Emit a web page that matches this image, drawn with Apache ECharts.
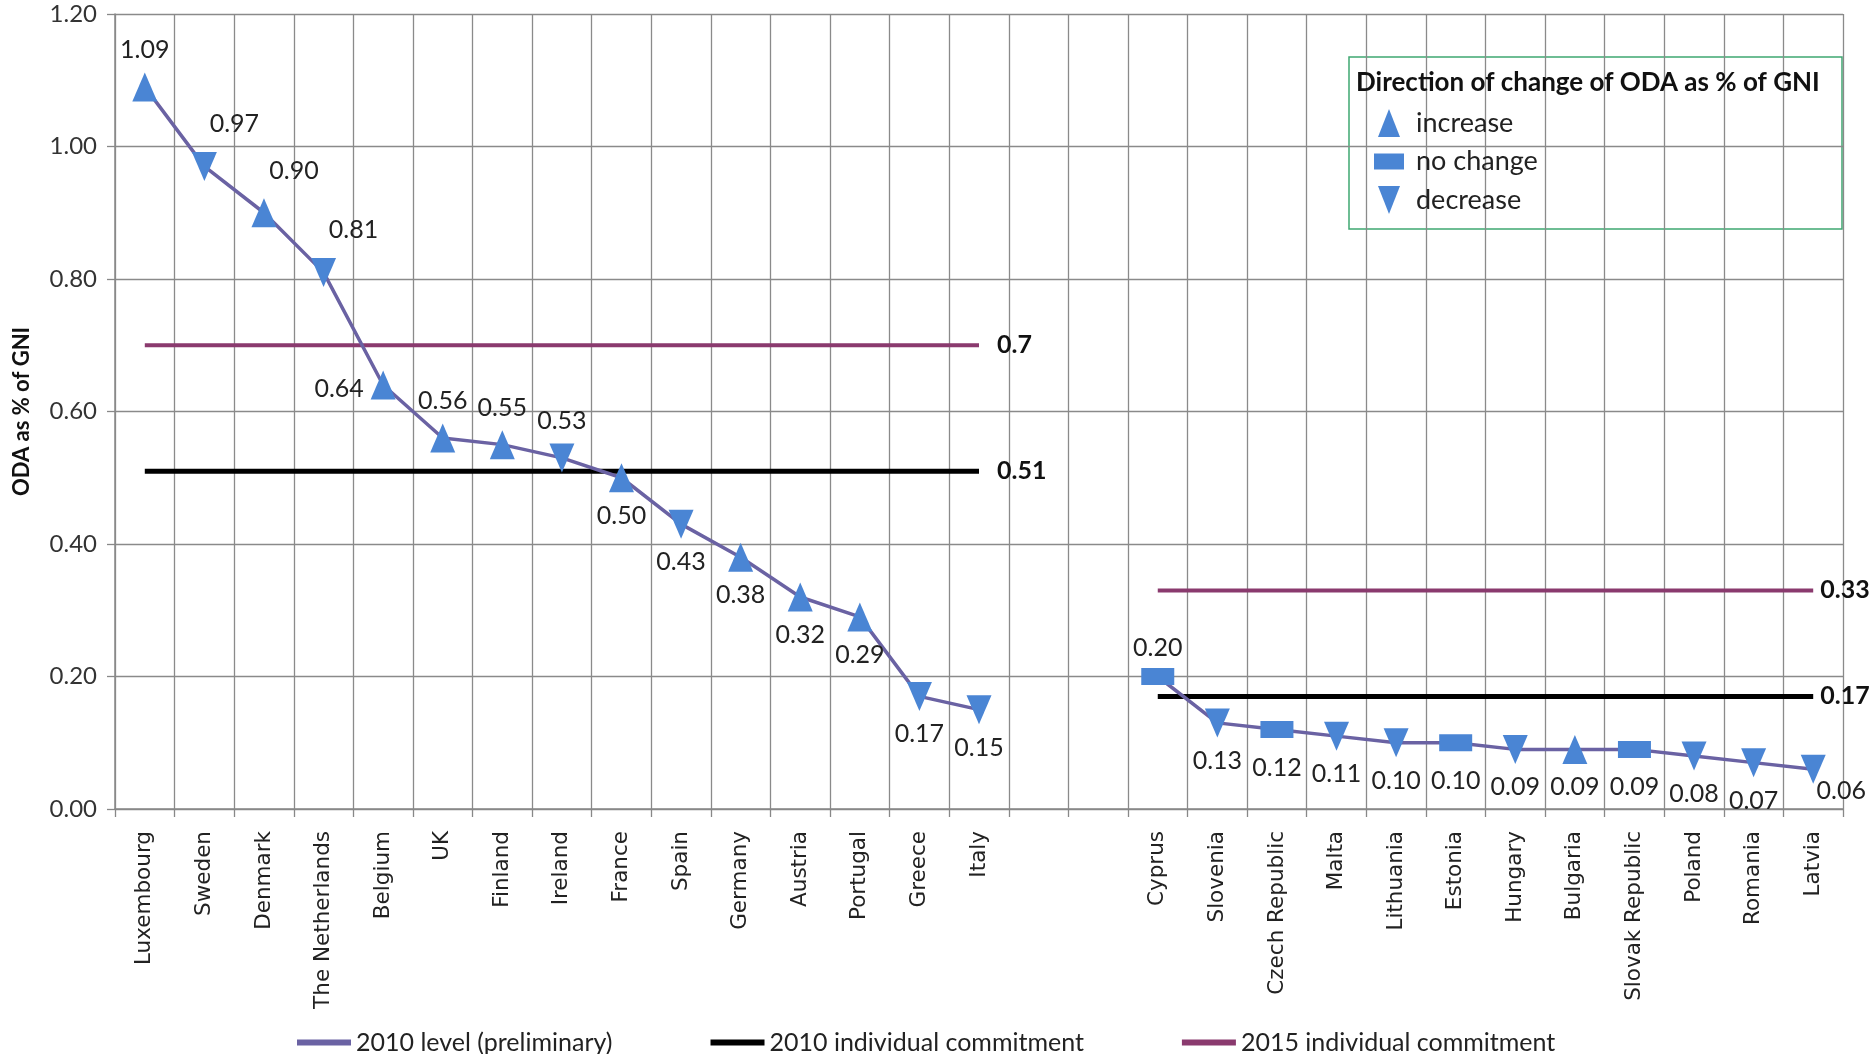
<!DOCTYPE html>
<html>
<head>
<meta charset="utf-8">
<script src="https://cdn.jsdelivr.net/npm/echarts@6/dist/echarts.min.js"></script>
<style>
html,body{margin:0;padding:0;background:#fff;}
#chart{width:1872px;height:1054px;}
</style>
</head>
<body>
<div id="chart"></div>
<script>
// ---- data ----
const categories = ['Luxembourg','Sweden','Denmark','The Netherlands','Belgium','UK','Finland','Ireland','France','Spain','Germany','Austria','Portugal','Greece','Italy',' ','  ','Cyprus','Slovenia','Czech Republic','Malta','Lithuania','Estonia','Hungary','Bulgaria','Slovak Republic','Poland','Romania','Latvia'];
const level2010 = [1.09,0.97,0.90,0.81,0.64,0.56,0.55,0.53,0.50,0.43,0.38,0.32,0.29,0.17,0.15,null,null,0.20,0.13,0.12,0.11,0.10,0.10,0.09,0.09,0.09,0.08,0.07,0.06];
const direction = ['up','down','up','down','up','up','up','down','up','down','up','up','up','down','down',null,null,'same','down','same','down','down','same','down','up','same','down','down','down'];
const commitment2010 = [0.51,0.51,0.51,0.51,0.51,0.51,0.51,0.51,0.51,0.51,0.51,0.51,0.51,0.51,0.51,null,null,0.17,0.17,0.17,0.17,0.17,0.17,0.17,0.17,0.17,0.17,0.17,0.17];
const commitment2015 = [0.7,0.7,0.7,0.7,0.7,0.7,0.7,0.7,0.7,0.7,0.7,0.7,0.7,0.7,0.7,null,null,0.33,0.33,0.33,0.33,0.33,0.33,0.33,0.33,0.33,0.33,0.33,0.33];
const yTicks = {min:0, max:1.2, interval:0.2};

// ---- styles ----
const labelPlace = ['top','tr','tr','tr','left','top','top','top','bottom','bottom','bottom','bottom','bottom','bottom','bottom',null,null,'topS','bottom','bottom','bottom','bottom','bottom','bottom','bottom','bottom','bottom','bottom','br'];
const placeOffset = {top:[0,-37], topS:[0,-29], tr:[30,-42], left:[-44,4], bottom:[0,38], br:[28,22]};
const FONT = 'Lato, "Open Sans", sans-serif';
const markerColor = '#4A85D4';
const lineColor = '#6A62A3';
const c2010Color = '#000000';
const c2015Color = '#8A3A6E';

function markerData(dir) {
  return level2010.map((v, i) => {
    if (direction[i] !== dir || v == null) return '-';
    return { value: v, label: { show: true, position: 'inside', offset: placeOffset[labelPlace[i]] } };
  });
}
function endLabelData(arr) {
  return arr.map((v, i) => {
    if (v == null) return '-';
    const isEnd = (i === arr.length - 1) || arr[i + 1] == null;
    if (!isEnd) return v;
    return { value: v, label: { show: true, distance: i === arr.length - 1 ? 7 : 18 } };
  });
}
const markerLabel = { show: false, fontFamily: FONT, fontSize: 25, color: '#222', formatter: p => p.value.toFixed(2) };
const endLabel = { show: false, position: 'right', fontFamily: FONT, fontSize: 25, fontWeight: 'bold', color: '#111', formatter: p => String(p.value) };

const chart = echarts.init(document.getElementById('chart'), null, {renderer: 'canvas'});
chart.setOption({
  animation: false,
  backgroundColor: '#fff',
  grid: { left: 115, right: 29, top: 14, bottom: 245, containLabel: false },
  title: {
    text: 'Direction of change of ODA as % of GNI',
    left: 1351, top: 65,
    textStyle: { fontFamily: FONT, fontSize: 26, fontWeight: 'bold', color: '#111' }
  },
  graphic: [{
    type: 'rect', z: -1,
    shape: { x: 1349, y: 57, width: 493, height: 172 },
    style: { fill: '#fff', stroke: '#3FA872', lineWidth: 1.5 }
  }],
  legend: [{
    orient: 'vertical', left: 1369, top: 104,
    itemWidth: 30, itemHeight: 28, itemGap: 11,
    selectedMode: false,
    textStyle: { fontFamily: FONT, fontSize: 27, color: '#222', padding: [0,0,0,7] },
    data: [
      { name: 'increase', icon: 'path://M11,0 L22,28 L0,28 Z', itemStyle: { color: markerColor } },
      { name: 'no change', icon: 'path://M0,0 L30,0 L30,16 L0,16 Z', itemStyle: { color: markerColor } },
      { name: 'decrease', icon: 'path://M0,0 L22,0 L11,28 Z', itemStyle: { color: markerColor } }
    ]
  }, {
    orient: 'horizontal', left: 292, top: 1025,
    itemWidth: 54, itemHeight: 6, itemGap: 98,
    selectedMode: false,
    textStyle: { fontFamily: FONT, fontSize: 25, color: '#222' },
    data: [
      { name: '2010 level (preliminary)', icon: 'rect', itemStyle: { color: lineColor } },
      { name: '2010 individual commitment', icon: 'rect', itemStyle: { color: c2010Color } },
      { name: '2015 individual commitment', icon: 'rect', itemStyle: { color: c2015Color } }
    ]
  }],
  xAxis: {
    type: 'category',
    data: categories,
    boundaryGap: true,
    axisLine: { show: true, lineStyle: { color: '#888', width: 1.5 } },
    axisTick: { show: true, length: 8, lineStyle: { color: '#888', width: 1.3 } },
    axisLabel: { rotate: 90, interval: 0, margin: 22, fontFamily: '"DejaVu Sans", Verdana, sans-serif', fontSize: 21.5, color: '#222' },
    splitLine: { show: true, lineStyle: { color: '#8a8a8a', width: 1.3 } }
  },
  yAxis: {
    type: 'value',
    min: yTicks.min, max: yTicks.max, interval: yTicks.interval,
    name: 'ODA as % of GNI',
    nameLocation: 'middle', nameRotate: 90, nameGap: 82,
    nameTextStyle: { fontFamily: FONT, fontSize: 22, fontWeight: 'bold', color: '#111' },
    axisLine: { show: true, lineStyle: { color: '#888', width: 1.5 } },
    axisTick: { show: true, length: 8, lineStyle: { color: '#888', width: 1.3 } },
    axisLabel: { margin: 18, fontFamily: FONT, fontSize: 24, color: '#333', formatter: v => v.toFixed(2) },
    splitLine: { show: true, lineStyle: { color: '#8a8a8a', width: 1.3 } }
  },
  series: [
    {
      name: '2015 individual commitment', type: 'line', data: endLabelData(commitment2015),
      showSymbol: true, symbol: 'circle', symbolSize: 0.1, color: c2015Color,
      itemStyle: { color: c2015Color },
      lineStyle: { color: c2015Color, width: 4 }, z: 2,
      label: endLabel
    },
    {
      name: '2010 individual commitment', type: 'line', data: endLabelData(commitment2010),
      showSymbol: true, symbol: 'circle', symbolSize: 0.1, color: c2010Color,
      itemStyle: { color: c2010Color },
      lineStyle: { color: c2010Color, width: 5 }, z: 3,
      label: endLabel
    },
    {
      name: '2010 level (preliminary)', type: 'line', data: level2010.map(v => v == null ? '-' : v),
      showSymbol: false, symbol: 'none', color: lineColor,
      lineStyle: { color: lineColor, width: 3.5 }, z: 4
    },
    {
      name: 'increase', type: 'scatter', data: markerData('up'),
      symbol: 'triangle', symbolSize: [25, 29], itemStyle: { color: markerColor, opacity: 1 }, z: 5,
      label: markerLabel
    },
    {
      name: 'no change', type: 'scatter', data: markerData('same'),
      symbol: 'rect', symbolSize: [33, 17], itemStyle: { color: markerColor, opacity: 1 }, z: 5,
      label: markerLabel
    },
    {
      name: 'decrease', type: 'scatter', data: markerData('down'),
      symbol: 'triangle', symbolRotate: 180, symbolSize: [25, 29], itemStyle: { color: markerColor, opacity: 1 }, z: 5,
      label: markerLabel
    }
  ]
});
</script>
</body>
</html>
